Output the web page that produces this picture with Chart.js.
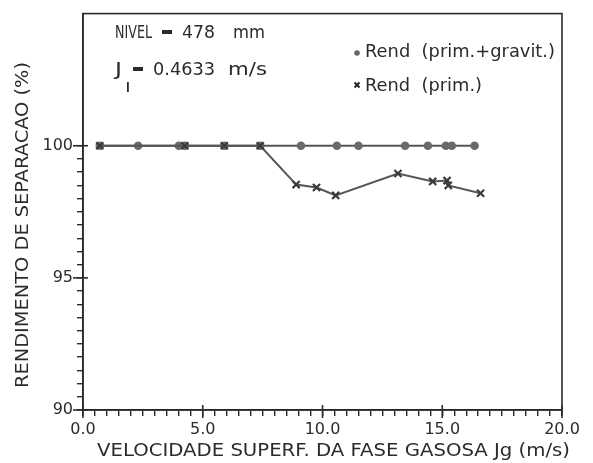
<!DOCTYPE html>
<html>
<head>
<meta charset="utf-8">
<script src="https://cdn.jsdelivr.net/npm/chart.js@4.4.1/dist/chart.umd.min.js"></script>
<style>
  html, body { margin: 0; padding: 0; background: #ffffff; }
  #wrap { width: 593px; height: 463px; }
</style>
</head>
<body>
<div id="wrap"><canvas id="c" width="593" height="463"></canvas></div>
<script>
// Superficial gas velocity Jg (m/s) and separation efficiency (%)
const jgPrimGravit = [0.7, 2.3, 4.0, 4.25, 5.9, 7.4, 9.1, 10.6, 11.5, 13.45, 14.4, 15.15, 15.4, 16.35];
const rendPrimGravit = [100, 100, 100, 100, 100, 100, 100, 100, 100, 100, 100, 100, 100, 100];
const jgPrim = [0.7, 4.25, 5.9, 7.4, 8.9, 9.75, 10.55, 13.15, 14.6, 15.2, 15.25, 16.6];
const rendPrim = [100, 100, 100, 100, 98.53, 98.42, 98.12, 98.95, 98.65, 98.68, 98.5, 98.2];

const xMajorLabels = ['0.0', '5.0', '10.0', '15.0', '20.0'];
const yMajorLabels = ['90', '95', '100'];

const seriesNames = ['Rend  (prim.+gravit.)', 'Rend  (prim.)'];
const xTitle = 'VELOCIDADE SUPERF. DA FASE GASOSA Jg (m/s)';
const yTitle = 'RENDIMENTO DE SEPARACAO (%)';

const INK = '#2b2b2b';
const FONT = '"DejaVu Sans", "Liberation Sans", sans-serif';

const toPoints = (xs, ys) => xs.map((x, i) => ({ x: x, y: ys[i] }));

// draws text squeezed horizontally to a given width
function fitText(ctx, text, x, y, width, size) {
  ctx.save();
  ctx.font = size + 'px ' + FONT;
  const w = ctx.measureText(text).width;
  ctx.translate(x, y);
  ctx.scale(width / w, 1);
  ctx.textAlign = 'left';
  ctx.fillText(text, 0, 0);
  ctx.restore();
}

// Frame, longer major ticks, titles, notes and the key
const decorations = {
  id: 'decorations',
  afterDraw(chart) {
    const { ctx, chartArea: a, scales } = chart;
    const xs = scales.x, ys = scales.y;
    ctx.save();
    ctx.strokeStyle = INK;
    ctx.lineWidth = 1.6;
    ctx.strokeRect(a.left, a.top, a.right - a.left, a.bottom - a.top);

    // major ticks cross the axis lines
    [0, 5, 10, 15, 20].forEach(v => {
      const px = xs.getPixelForValue(v);
      ctx.beginPath(); ctx.moveTo(px, a.bottom - 5); ctx.lineTo(px, a.bottom + 8); ctx.stroke();
    });
    [90, 95, 100].forEach(v => {
      const py = ys.getPixelForValue(v);
      ctx.beginPath(); ctx.moveTo(a.left - 10, py); ctx.lineTo(a.left + 5, py); ctx.stroke();
    });

    ctx.fillStyle = INK;
    ctx.textBaseline = 'alphabetic';

    // axis titles
    fitText(ctx, xTitle, 97, 456, 473, 17);
    ctx.save();
    ctx.translate(28, 388);
    ctx.rotate(-Math.PI / 2);
    fitText(ctx, yTitle, 0, 0, 326, 17);
    ctx.restore();

    // test conditions
    fitText(ctx, 'NIVEL', 115, 38, 37, 17);
    ctx.fillRect(162, 30, 10, 4);
    fitText(ctx, '478', 182, 38, 33, 17);
    fitText(ctx, 'mm', 233, 38, 32, 17);
    fitText(ctx, 'J', 115, 75, 7, 17);
    ctx.fillRect(133, 67, 10, 4);
    fitText(ctx, '0.4633', 153, 75, 62, 17);
    fitText(ctx, 'm/s', 228, 75, 39, 17);
    ctx.fillRect(127, 82, 1.8, 10);

    // key
    ctx.fillStyle = '#666';
    ctx.beginPath(); ctx.arc(357, 53, 2.8, 0, Math.PI * 2); ctx.fill();
    ctx.strokeStyle = '#222';
    ctx.lineWidth = 2;
    ctx.beginPath();
    ctx.moveTo(354.5, 82.5); ctx.lineTo(359.5, 87.5);
    ctx.moveTo(359.5, 82.5); ctx.lineTo(354.5, 87.5);
    ctx.stroke();
    ctx.fillStyle = INK;
    fitText(ctx, seriesNames[0], 365, 57, 190, 17);
    fitText(ctx, seriesNames[1], 365, 91, 117, 17);
    ctx.restore();
  }
};

new Chart(document.getElementById('c'), {
  type: 'scatter',
  data: {
    datasets: [
      {
        label: seriesNames[0],
        data: toPoints(jgPrimGravit, rendPrimGravit),
        showLine: true,
        borderColor: '#555',
        borderWidth: 2,
        pointStyle: 'circle',
        pointRadius: 3.3,
        pointBackgroundColor: '#6a6a6a',
        pointBorderColor: '#6a6a6a',
        order: 2
      },
      {
        label: seriesNames[1],
        data: toPoints(jgPrim, rendPrim),
        showLine: true,
        borderColor: '#555',
        borderWidth: 2,
        pointStyle: 'crossRot',
        pointRadius: 5,
        pointBorderWidth: 2.2,
        pointBorderColor: '#3a3a3a',
        pointBackgroundColor: '#3a3a3a',
        order: 1
      }
    ]
  },
  options: {
    responsive: false,
    animation: false,
    devicePixelRatio: 1,
    layout: { padding: { top: 12, right: 31, left: 0, bottom: 0 } },
    plugins: { legend: { display: false }, tooltip: { enabled: false } },
    scales: {
      x: {
        type: 'linear',
        min: 0, max: 20,
        afterFit(scale) { scale.height = 53; },
        ticks: {
          stepSize: 0.5,
          autoSkip: false,
          maxRotation: 0,
          padding: 4,
          color: INK,
          font: { size: 16, family: FONT },
          callback: v => (v % 5 === 0 ? xMajorLabels[v / 5] : '')
        },
        grid: { drawOnChartArea: false, drawTicks: true, tickLength: 6, color: INK, lineWidth: 1.4 },
        border: { display: true, color: INK, width: 1.6 }
      },
      y: {
        type: 'linear',
        min: 90, max: 105,
        afterFit(scale) { scale.width = 83; },
        afterBuildTicks(scale) { scale.ticks = scale.ticks.filter(t => t.value <= 100); },
        ticks: {
          stepSize: 0.5,
          autoSkip: false,
          padding: 4,
          color: INK,
          font: { size: 16, family: FONT },
          callback: v => (v % 5 === 0 && v <= 100 ? yMajorLabels[(v - 90) / 5] : '')
        },
        grid: { drawOnChartArea: false, drawTicks: true, tickLength: 6, color: INK, lineWidth: 1.4 },
        border: { display: true, color: INK, width: 1.6 }
      }
    }
  },
  plugins: [decorations]
});
</script>
</body>
</html>
